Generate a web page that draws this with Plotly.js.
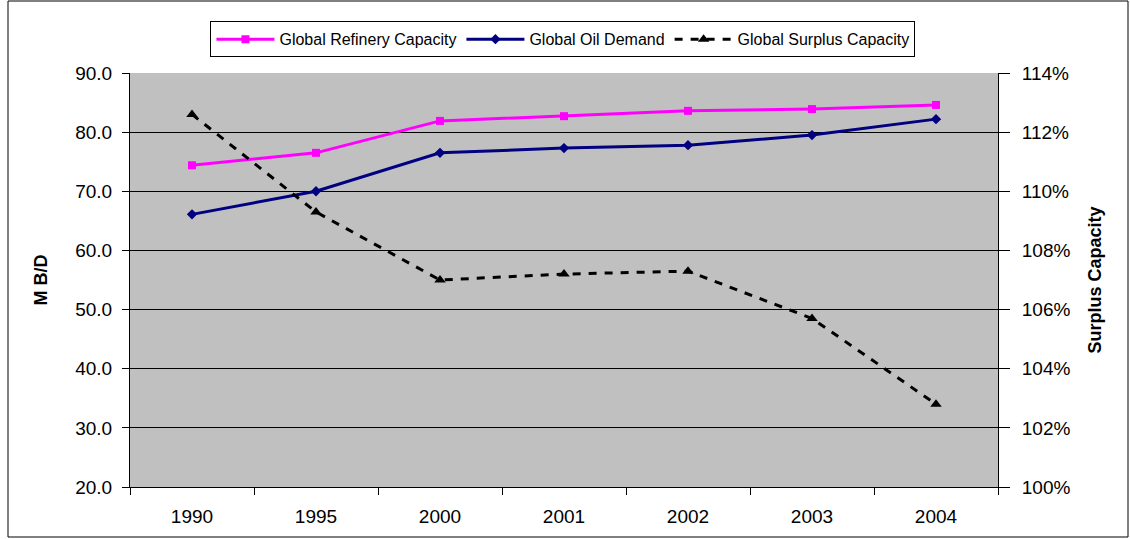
<!DOCTYPE html>
<html>
<head>
<meta charset="utf-8">
<script src="https://cdn.plot.ly/plotly-3.0.1.min.js"></script>
<style>
html,body{margin:0;padding:0;background:#fff;}
#chart{width:1130px;height:539px;}
</style>
</head>
<body>
<div id="chart"></div>
<script>
const years = ['1990', '1995', '2000', '2001', '2002', '2003', '2004'];
const refineryCapacity = [74.4, 76.5, 81.9, 82.7, 83.6, 83.9, 84.6];
const oilDemand = [66.1, 70.0, 76.5, 77.3, 77.8, 79.5, 82.2];
const surplusCapacity = [1.126, 1.093, 1.070, 1.072, 1.073, 1.057, 1.028];
const leftTicks = [20, 30, 40, 50, 60, 70, 80, 90];
const rightTicks = [1.00, 1.02, 1.04, 1.06, 1.08, 1.10, 1.12, 1.14];

const font = 'Liberation Sans, Arial, sans-serif';

const traces = [
  {
    x: years, y: refineryCapacity, name: 'Global Refinery Capacity',
    type: 'scatter', mode: 'lines+markers',
    line: {color: '#FF00FF', width: 3},
    marker: {symbol: 'square', size: 8, color: '#FF00FF'}
  },
  {
    x: years, y: oilDemand, name: 'Global Oil Demand',
    type: 'scatter', mode: 'lines+markers',
    line: {color: '#000080', width: 3},
    marker: {symbol: 'diamond', size: 8, color: '#000080'}
  },
  {
    x: years, y: surplusCapacity, name: 'Global Surplus Capacity', yaxis: 'y2',
    type: 'scatter', mode: 'lines+markers',
    line: {color: '#000000', width: 3, dash: '8px,8px'},
    marker: {symbol: 'triangle-up', size: 10, color: '#000000'}
  }
];

const layout = {
  width: 1130, height: 539,
  margin: {l: 130, r: 132, t: 73, b: 52},
  paper_bgcolor: '#ffffff',
  plot_bgcolor: '#C0C0C0',
  font: {family: font, color: '#000', size: 16},
  showlegend: true,
  legend: {
    orientation: 'h', x: 0.4988, xanchor: 'center', y: 1.125, yanchor: 'top',
    bgcolor: '#ffffff', bordercolor: '#000', borderwidth: 1,
    font: {family: font, size: 16, color: '#000'},
    itemwidth: 58, tracegroupgap: 0
  },
  xaxis: {
    type: 'category',
    tickvals: years, ticktext: years,
    ticks: 'outside', ticklen: 7, tickcolor: '#000', tickson: 'boundaries',
    ticklabelstandoff: 12,
    showline: true, linecolor: '#000', linewidth: 1,
    showgrid: false, zeroline: false,
    tickfont: {family: font, size: 19},
    range: [-0.5, 6.5], fixedrange: true
  },
  yaxis: {
    range: [20, 90], tickvals: leftTicks,
    ticktext: leftTicks.map(v => v.toFixed(1)),
    ticks: 'outside', ticklen: 7, tickcolor: '#000',
    ticklabelstandoff: 6,
    showline: true, linecolor: '#000', linewidth: 1,
    showgrid: true, gridcolor: '#000', gridwidth: 1,
    zeroline: false,
    tickfont: {family: font, size: 19},
    title: {text: '<b>M B/D</b>', font: {family: font, size: 18}, standoff: 22}
  },
  yaxis2: {
    overlaying: 'y', side: 'right',
    range: [1.00, 1.14], tickvals: rightTicks,
    ticktext: rightTicks.map(v => Math.round(v * 100) + '%'),
    ticks: 'outside', ticklen: 11, tickcolor: '#000',
    ticklabelstandoff: 8,
    showline: true, linecolor: '#000', linewidth: 1,
    showgrid: false, zeroline: false,
    tickfont: {family: font, size: 19},
    title: {text: '<b>Surplus Capacity</b>', font: {family: font, size: 18}, standoff: 18}
  },
  shapes: [
    {type: 'rect', xref: 'paper', yref: 'paper',
     x0: -122/868, x1: 1128/868 - 130/868, y0: -50/414, y1: 1 + 72/414,
     line: {color: '#000', width: 1}, fillcolor: 'rgba(0,0,0,0)'}
  ]
};

Plotly.newPlot('chart', traces, layout, {displayModeBar: false, staticPlot: true});
</script>
</body>
</html>
